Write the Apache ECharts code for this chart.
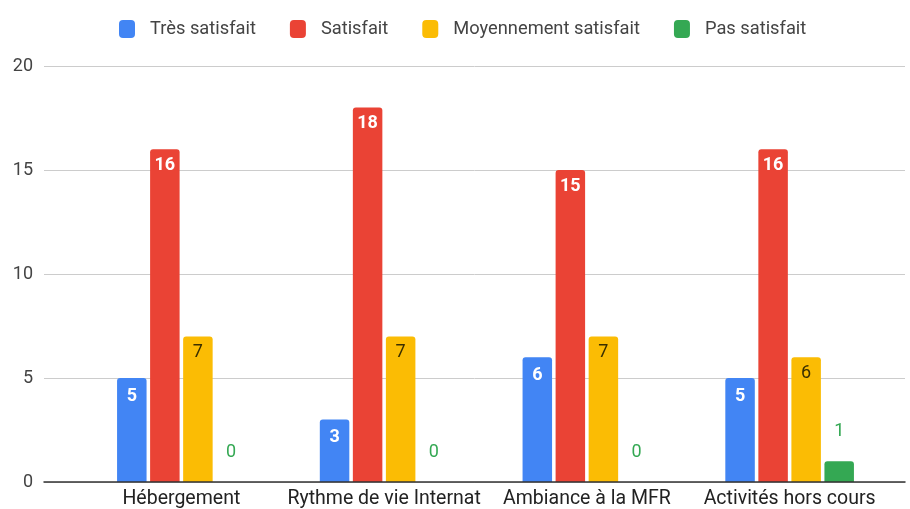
<!DOCTYPE html>
<html>
<head>
<meta charset="utf-8">
<script src="https://cdn.jsdelivr.net/npm/echarts@6/dist/echarts.min.js"></script>
<style>html,body{margin:0;padding:0;background:#fff}#c{width:910px;height:509px}</style>
</head>
<body>
<div id="c"></div>
<script>
var categories = ['Hébergement', 'Rythme de vie Internat', 'Ambiance à la MFR', 'Activités hors cours'];
var seriesNames = ['Très satisfait', 'Satisfait', 'Moyennement satisfait', 'Pas satisfait'];
var tresSatisfait = [5, 3, 6, 5];
var satisfait = [16, 18, 15, 16];
var moyennement = [7, 7, 7, 6];
var pasSatisfait = [0, 0, 0, 1];
var yTicks = [0, 5, 10, 15, 20];

var colors = ['#4285F4', '#EA4335', '#FBBC04', '#34A853'];
var font = 'Roboto, Arial, sans-serif';
var chart = echarts.init(document.getElementById('c'), null, {renderer: 'canvas'});

function barSeries(idx, data, labelCfg) {
  return {
    name: seriesNames[idx],
    type: 'bar',
    xAxisIndex: 1,
    yAxisIndex: 1,
    data: data,
    barWidth: 29.5,
    barGap: '12%',
    itemStyle: {color: colors[idx], borderRadius: [3, 3, 0, 0]},
    label: Object.assign({show: true, fontFamily: font, fontSize: 18}, labelCfg),
    emphasis: {disabled: true},
    animation: false
  };
}

chart.setOption({
  animation: false,
  color: colors,
  textStyle: {fontFamily: font},
  legend: {
    top: 15,
    left: 114,
    itemWidth: 16,
    itemHeight: 18,
    itemGap: 34,
    icon: 'roundRect',
    textStyle: {fontFamily: font, fontSize: 18.3, color: '#444', padding: [0, 0, 0, 10]},
    data: seriesNames
  },
  grid: [
    {left: 44, right: 5, top: 66, bottom: 27, containLabel: false},
    {left: 80, right: 19, top: 66, bottom: 27, containLabel: false}
  ],
  xAxis: [
    {
      gridIndex: 0, type: 'category', data: [''],
      axisLine: {show: true, lineStyle: {color: '#333', width: 1.5}},
      axisTick: {show: false}, axisLabel: {show: false}, splitLine: {show: false}, z: 5
    },
    {
      gridIndex: 1, type: 'category', data: categories,
      axisLine: {show: false}, axisTick: {show: false},
      axisLabel: {fontFamily: font, fontSize: 19.5, color: '#222', margin: 7, interval: 0}
    }
  ],
  yAxis: [
    {
      gridIndex: 0, type: 'value', min: yTicks[0], max: yTicks[yTicks.length - 1], interval: 5,
      axisLine: {show: false}, axisTick: {show: false},
      axisLabel: {fontFamily: font, fontSize: 18, color: '#444', margin: 11},
      splitLine: {show: true, lineStyle: {color: '#cccccc', width: 1}}
    },
    {
      gridIndex: 1, type: 'value', min: yTicks[0], max: yTicks[yTicks.length - 1], interval: 5,
      show: false, splitLine: {show: false}
    }
  ],
  series: [
    barSeries(0, tresSatisfait, {position: 'insideTop', distance: 9, color: '#fff', fontWeight: 'bold'}),
    barSeries(1, satisfait, {position: 'insideTop', distance: 7, color: '#fff', fontWeight: 'bold'}),
    barSeries(2, moyennement, {position: 'insideTop', distance: 7, color: '#3a2f00'}),
    barSeries(3, pasSatisfait, {position: 'top', distance: 21, color: '#34A853'})
  ]
});
</script>
</body>
</html>
